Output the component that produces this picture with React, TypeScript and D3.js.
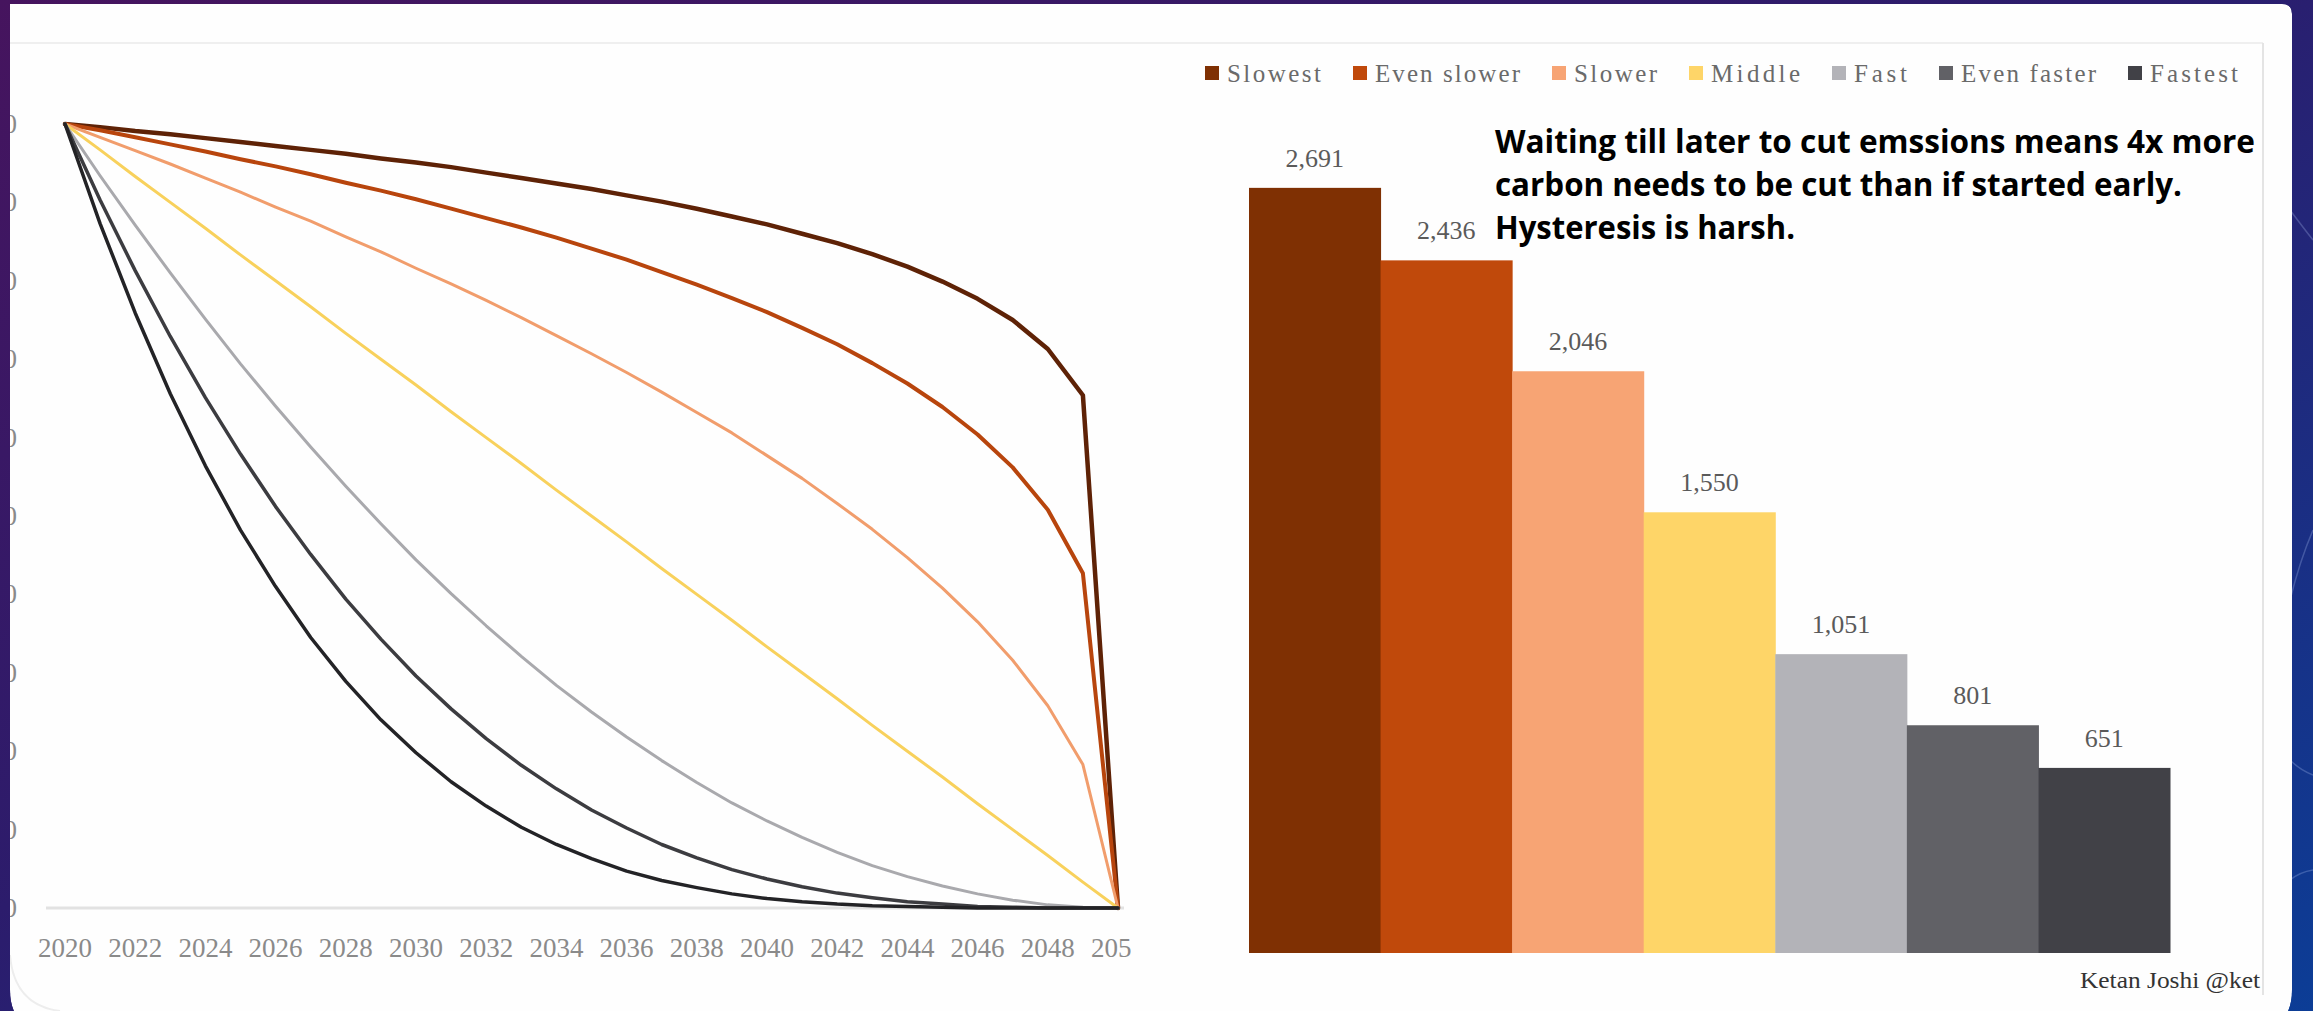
import React, { useEffect, useRef } from 'react';
import * as d3 from 'd3';

const years = [2020, 2021, 2022, 2023, 2024, 2025, 2026, 2027, 2028, 2029, 2030, 2031, 2032, 2033, 2034, 2035, 2036, 2037, 2038, 2039, 2040, 2041, 2042, 2043, 2044, 2045, 2046, 2047, 2048, 2049, 2050];
const xTickYears = [2020, 2022, 2024, 2026, 2028, 2030, 2032, 2034, 2036, 2038, 2040, 2042, 2044, 2046, 2048, 2050];
const yTicks = [0, 10, 20, 30, 40, 50, 60, 70, 80, 90, 100];

const seriesNames = ['Slowest', 'Even slower', 'Slower', 'Middle', 'Fast', 'Even faster', 'Fastest'];

const slowest = [100, 99.6, 99.1, 98.7, 98.2, 97.7, 97.2, 96.7, 96.2, 95.6, 95.1, 94.5, 93.8, 93.1, 92.4, 91.7, 90.9, 90.1, 89.2, 88.2, 87.2, 86.0, 84.8, 83.4, 81.8, 79.9, 77.7, 75.0, 71.3, 65.4, 0];
const evenSlower = [100, 99.2, 98.3, 97.4, 96.5, 95.5, 94.6, 93.6, 92.5, 91.5, 90.4, 89.2, 88.0, 86.8, 85.5, 84.1, 82.7, 81.1, 79.5, 77.8, 76.0, 74.0, 71.9, 69.5, 66.9, 63.9, 60.4, 56.2, 50.8, 42.7, 0];
const slower = [100, 98.3, 96.6, 94.9, 93.1, 91.3, 89.4, 87.6, 85.6, 83.7, 81.6, 79.6, 77.5, 75.3, 73.0, 70.7, 68.3, 65.8, 63.2, 60.6, 57.7, 54.8, 51.6, 48.3, 44.7, 40.8, 36.5, 31.6, 25.8, 18.3, 0];
const middle = [100, 96.7, 93.3, 90, 86.7, 83.3, 80, 76.7, 73.3, 70, 66.7, 63.3, 60, 56.7, 53.3, 50, 46.7, 43.3, 40, 36.7, 33.3, 30, 26.7, 23.3, 20, 16.7, 13.3, 10, 6.7, 3.3, 0];
const fast = [100, 93.4, 87.1, 81.0, 75.1, 69.4, 64.0, 58.8, 53.8, 49.0, 44.4, 40.1, 36.0, 32.1, 28.4, 25.0, 21.8, 18.8, 16.0, 13.4, 11.1, 9.0, 7.1, 5.4, 4.0, 2.8, 1.8, 1.0, 0.4, 0.1, 0];
const evenFaster = [100, 90.3, 81.3, 72.9, 65.1, 57.9, 51.2, 45.1, 39.4, 34.3, 29.6, 25.4, 21.6, 18.2, 15.2, 12.5, 10.2, 8.1, 6.4, 4.9, 3.7, 2.7, 1.9, 1.3, 0.8, 0.5, 0.2, 0.1, 0, 0, 0];
const fastest = [100, 87.3, 75.9, 65.6, 56.4, 48.2, 41.0, 34.5, 28.9, 24.0, 19.8, 16.1, 13.0, 10.3, 8.1, 6.3, 4.7, 3.5, 2.6, 1.8, 1.2, 0.8, 0.5, 0.3, 0.2, 0.1, 0, 0, 0, 0, 0];

const totals = [2691, 2436, 2046, 1550, 1051, 801, 651];

const annotationLines = [
  'Waiting till later to cut emssions means 4x more',
  'carbon needs to be cut than if started early.',
  'Hysteresis is harsh.',
];
const credit = 'Ketan Joshi @ket';

const barColors = ['#7f3003', '#c0490b', '#f7a474', '#fed568', '#b3b3b8', '#616166', '#414147'];
const lineColors = ['#5e2206', '#b8450d', '#f19d6c', '#f8d15c', '#a9a9ad', '#3c3c40', '#232326'];
const lineWidths = [4.5, 4, 3, 3, 3, 3.5, 3.5];
const legendTextWidths = [94, 145, 83, 89, 53, 135, 88];

const W = 2313;
const H = 1011;

export default function App() {
  const ref = useRef<SVGSVGElement>(null);

  useEffect(() => {
    document.body.style.margin = '0';
    const svg = d3.select(ref.current);
    svg.selectAll('*').remove();

    const defs = svg.append('defs');
    const bg = defs.append('linearGradient').attr('id', 'bg').attr('x1', 0).attr('y1', 0).attr('x2', 1).attr('y2', 1);
    bg.append('stop').attr('offset', '0%').attr('stop-color', '#46145e');
    bg.append('stop').attr('offset', '45%').attr('stop-color', '#2c1c6c');
    bg.append('stop').attr('offset', '100%').attr('stop-color', '#0c3d96');

    const panelPath = 'M10,4 L2282,4 Q2292,4 2292,14 L2292,990 Q2292,1030 2252,1030 L50,1030 Q10,1030 10,990 Z';
    defs.append('clipPath').attr('id', 'panelClip').append('path').attr('d', panelPath);
    defs.append('clipPath').attr('id', 'xClip')
      .append('rect').attr('x', 10).attr('y', 0).attr('width', 1121).attr('height', H);

    svg.append('rect').attr('width', W).attr('height', H).attr('fill', 'url(#bg)');
    const deco = svg.append('g').attr('fill', 'none').attr('stroke', 'rgba(190,210,255,0.25)').attr('stroke-width', 1.5);
    deco.append('path').attr('d', 'M2290,210 Q2305,230 2313,240');
    deco.append('path').attr('d', 'M2290,600 Q2300,560 2313,530');
    deco.append('path').attr('d', 'M2290,760 Q2300,770 2313,775');
    deco.append('path').attr('d', 'M2290,880 Q2300,872 2313,870');

    const panel = svg.append('g').attr('clip-path', 'url(#panelClip)');
    panel.append('path').attr('d', panelPath).attr('fill', '#fefefe');
    panel.append('line').attr('x1', 10).attr('x2', 2263).attr('y1', 43).attr('y2', 43).attr('stroke', '#efefef').attr('stroke-width', 2);
    panel.append('line').attr('x1', 2263).attr('x2', 2263).attr('y1', 43).attr('y2', 995).attr('stroke', '#e4e4e4').attr('stroke-width', 2);
    panel.append('path').attr('d', 'M10,955 Q14,1005 60,1011').attr('fill', 'none').attr('stroke', '#ededed').attr('stroke-width', 2);

    // ---------- Left line chart ----------
    const x = d3.scaleLinear().domain([2020, 2050]).range([65, 1118]);
    const y = d3.scaleLinear().domain([0, 100]).range([908, 124]);

    panel.append('line').attr('x1', 46).attr('x2', 1124).attr('y1', y(0)).attr('y2', y(0))
      .attr('stroke', '#e2e2e2').attr('stroke-width', 3);

    panel.append('g').selectAll('text').data(yTicks).join('text')
      .attr('x', 17).attr('y', (d) => y(d) + 9)
      .attr('text-anchor', 'end')
      .attr('font-family', '"Liberation Serif", serif').attr('font-size', 27).attr('fill', '#8a8a8a')
      .text((d) => String(d));

    panel.append('g').attr('clip-path', 'url(#xClip)').selectAll('text').data(xTickYears).join('text')
      .attr('x', (d) => x(d)).attr('y', 957)
      .attr('text-anchor', 'middle')
      .attr('font-family', '"Liberation Serif", serif').attr('font-size', 27).attr('fill', '#8a8a8a')
      .text((d) => String(d));

    const series = [slowest, evenSlower, slower, middle, fast, evenFaster, fastest];
    const line = d3.line<number>().x((_, i) => x(years[i])).y((d) => y(d)).curve(d3.curveLinear);
    panel.append('g').selectAll('path').data(series).join('path')
      .attr('d', (d) => line(d))
      .attr('fill', 'none')
      .attr('stroke', (_, i) => lineColors[i])
      .attr('stroke-width', (_, i) => lineWidths[i])
      .attr('stroke-linejoin', 'round')
      .attr('stroke-linecap', 'round');

    // ---------- Right bar chart ----------
    const xb = d3.scaleBand<string>().domain(seriesNames).range([1249, 2170]).paddingInner(0);
    const yb = d3.scaleLinear().domain([0, 3000]).range([953, 100]);

    panel.append('g').selectAll('rect').data(totals).join('rect')
      .attr('x', (_, i) => xb(seriesNames[i]) as number)
      .attr('y', (d) => yb(d))
      .attr('width', xb.bandwidth() + 0.5)
      .attr('height', (d) => yb(0) - yb(d))
      .attr('fill', (_, i) => barColors[i]);

    panel.append('g').selectAll('text').data(totals).join('text')
      .attr('x', (_, i) => (xb(seriesNames[i]) as number) + xb.bandwidth() / 2)
      .attr('y', (d) => yb(d) - 21)
      .attr('text-anchor', 'middle')
      .attr('font-family', '"Liberation Serif", serif').attr('font-size', 26).attr('fill', '#5a5a5a')
      .text((d) => d3.format(',')(d));

    // legend
    const lg = panel.append('g');
    let lx = 1205;
    seriesNames.forEach((name, i) => {
      lg.append('rect').attr('x', lx).attr('y', 66).attr('width', 14).attr('height', 14).attr('fill', barColors[i]);
      lg.append('text').attr('x', lx + 22).attr('y', 82)
        .attr('font-family', '"Liberation Serif", serif').attr('font-size', 25)
        .attr('textLength', legendTextWidths[i]).attr('lengthAdjust', 'spacing')
        .attr('fill', '#6a6a6a').text(name);
      lx += 22 + legendTextWidths[i] + 32;
    });

    // annotation
    const annWidths = [760, 687, 300];
    panel.append('g').selectAll('text').data(annotationLines).join('text')
      .attr('x', 1495).attr('y', (_, i) => 153 + i * 43)
      .attr('font-family', '"Open Sans", sans-serif').attr('font-weight', 700).attr('font-size', 32)
      .attr('fill', '#000000')
      .attr('textLength', (_, i) => annWidths[i])
      .attr('lengthAdjust', 'spacingAndGlyphs')
      .text((d) => d);

    panel.append('text').attr('x', 2080).attr('y', 988)
      .attr('font-family', '"Liberation Serif", serif').attr('font-size', 24).attr('fill', '#333333')
      .attr('textLength', 180).attr('lengthAdjust', 'spacingAndGlyphs')
      .text(credit);
  }, []);

  return (
    <svg ref={ref} width={W} height={H} style={{ position: 'absolute', left: 0, top: 0, display: 'block' }} />
  );
}
